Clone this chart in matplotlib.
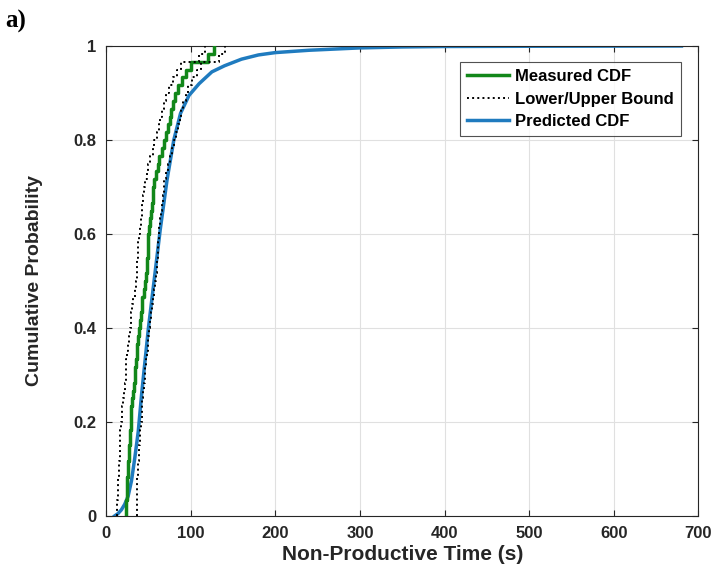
"""Empirical vs. predicted CDF of non-productive time, with bounds."""
import numpy as np
import matplotlib
matplotlib.use("Agg")
import matplotlib.pyplot as plt

# measured non-productive times (s), sorted
MEASURED = [
    24, 24, 25, 25, 25, 26,
    26, 27, 27, 28, 28, 29,
    30, 30, 31, 32,
    33, 34, 34, 35, 36, 37, 38, 39,
    40, 41, 42, 43, 45, 46, 47,
    48, 48, 49, 49, 50, 51,
    52, 53, 54, 55, 56, 57,
    59, 61, 63, 66, 68,
    71, 73, 75, 77,
    79, 82, 85,
    90, 95,
    100,
    121,
    128,
]
# timing uncertainty used for the bound curves (s)
UPPER_SHIFT = -11.0
LOWER_SHIFT = 12.0

# fitted model CDF
PRED_T = [10, 14, 18, 22, 26, 30, 34, 38, 42, 46, 50, 54, 58, 64, 72, 80,
          88, 98, 110, 125, 140, 160, 180, 200, 240, 300, 350, 400, 500, 680]
PRED_F = [0.0, 0.005, 0.013, 0.025, 0.042, 0.075, 0.125, 0.18, 0.26, 0.33,
          0.40, 0.46, 0.52, 0.61, 0.715, 0.80, 0.857, 0.895, 0.92, 0.945,
          0.958, 0.972, 0.981, 0.986, 0.991, 0.996, 0.998, 0.999, 0.9995, 1.0]

GREEN = "#12871a"
BLUE = "#1f7bbf"
AXCOL = "#262626"


def ecdf_steps(samples):
    s = np.sort(np.asarray(samples, dtype=float))
    f = np.arange(1, len(s) + 1) / len(s)
    return np.concatenate([[s[0]], s]), np.concatenate([[0.0], f])


def main():
    plt.rcParams["font.family"] = ["Liberation Sans", "DejaVu Sans"]
    plt.rcParams["font.weight"] = "bold"

    fig = plt.figure(figsize=(7.17, 5.73), dpi=100)
    ax = fig.add_axes([0.148, 0.0995, 0.826, 0.8202])

    x, f = ecdf_steps(MEASURED)
    ax.step(x, f, where="post", color=GREEN, linewidth=2.5,
            label="Measured CDF", zorder=3)
    ax.step(x + UPPER_SHIFT, f, where="post", color="black", linestyle=":",
            linewidth=1.4, label="Lower/Upper Bound", zorder=4)
    ax.step(x + LOWER_SHIFT, f, where="post", color="black", linestyle=":",
            linewidth=1.4, zorder=4)
    ax.plot(PRED_T, PRED_F, color=BLUE, linewidth=2.5,
            label="Predicted CDF", zorder=2)

    ax.set_xlim(0, 700)
    ax.set_ylim(0, 1)
    ax.set_xticks(np.arange(0, 701, 100))
    ax.set_yticks([0, 0.2, 0.4, 0.6, 0.8, 1.0])
    ax.set_yticklabels(["0", "0.2", "0.4", "0.6", "0.8", "1"])
    ax.grid(True, color="#e0e0e0", linewidth=0.8)
    ax.set_axisbelow(True)
    ax.tick_params(direction="in", length=4, width=0.8, colors=AXCOL,
                   labelsize=12, top=True, right=True, pad=7)
    for lab in ax.get_xticklabels() + ax.get_yticklabels():
        lab.set_fontweight("bold")
    for sp in ax.spines.values():
        sp.set_color(AXCOL)
        sp.set_linewidth(0.8)

    ax.set_xlabel("Non-Productive Time (s)", fontsize=15,
                  fontweight="bold", color=AXCOL, labelpad=3)
    ax.set_ylabel("Cumulative Probability", fontsize=14,
                  fontweight="bold", color=AXCOL, labelpad=22)

    leg = ax.legend(loc="upper right", bbox_to_anchor=(0.97, 0.965),
                    fontsize=12, frameon=True, fancybox=False,
                    edgecolor=AXCOL, handlelength=2.5, handletextpad=0.4,
                    borderpad=0.4, labelspacing=0.45, borderaxespad=0)
    leg.get_frame().set_linewidth(0.8)
    for t in leg.get_texts():
        t.set_fontweight("bold")

    fig.text(0.008, 0.963, "a)", fontsize=18, fontweight="bold",
             family=["Liberation Serif", "DejaVu Serif"], va="center")

    fig.savefig("out.png", dpi=100)


if __name__ == "__main__":
    main()
